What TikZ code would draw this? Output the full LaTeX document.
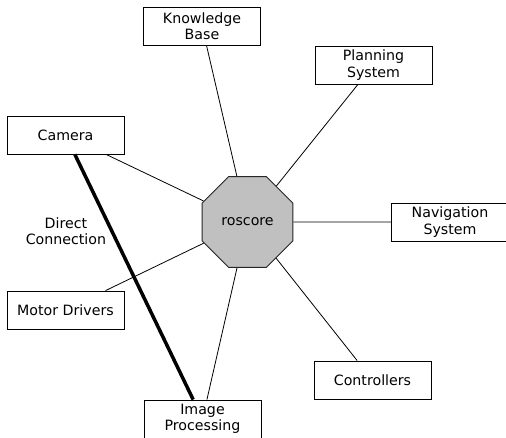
\documentclass[tikz,border=0pt]{standalone}
\usepackage{fontspec}
\setmainfont{DejaVu Sans}
\usetikzlibrary{shapes.geometric}

\begin{document}
\begin{tikzpicture}[x=1pt,y=1pt,
  box/.style={draw,line width=0.8pt,minimum width=117pt,minimum height=38pt,align=center,inner sep=2pt},
  link/.style={line width=0.8pt}]
 \fontsize{14.2pt}{16.3pt}\selectfont
 \useasboundingbox (0,0) rectangle (506,438); %描画範囲
 \node[regular polygon,regular polygon sides=8,minimum size=98.4pt,draw=black!85,line width=1pt,fill={rgb,255:red,192;green,192;blue,192}] (roscore) at (247.5,216) {roscore}; %中心の八角形
 \node[box] (kb) at (202,412) {Knowledge\\Base}; %知識ベース
 \node[box] (plan) at (373.5,373) {Planning\\System}; %計画
 \node[box] (cam) at (65.5,303) {Camera}; %カメラ
 \node[box] (nav) at (450,216) {Navigation\\System}; %ナビゲーション
 \node[box] (motor) at (65.5,128) {Motor Drivers}; %モータ
 \node[box] (ctrl) at (372.5,58) {Controllers}; %コントローラ
 \node[box] (img) at (202.5,19) {Image\\Processing}; %画像処理
 \foreach \n in {kb,plan,cam,nav,motor,ctrl,img}
  \draw[link] (roscore)--(\n); %roscoreとの接続
 \draw[line width=3.5pt] (cam)--(img) node[pos=0.313,left,align=center,inner sep=4pt] (direct) {Direct\\Connection}; %直接接続
\end{tikzpicture}
\end{document}
